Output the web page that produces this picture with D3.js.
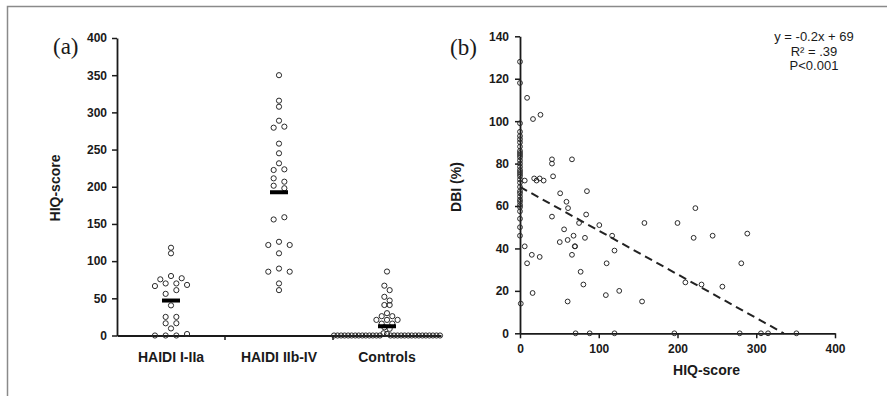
<!DOCTYPE html>
<html><head><meta charset="utf-8">
<script src="https://cdn.jsdelivr.net/npm/d3@7"></script>
<style>
html,body{margin:0;padding:0;background:#fff;}
svg{display:block;}
text{font-family:"Liberation Sans",Arial,sans-serif;fill:#1a1a1a;}
.tick text{font-weight:700 !important;font-size:12px !important;font-family:"Liberation Sans",Arial,sans-serif !important;}
</style></head>
<body>
<svg id="chart" width="887" height="396"></svg>
<script>
// ---------- Panel (a) data ----------
const categories = ["HAIDI I-IIa", "HAIDI IIb-IV", "Controls"];
const haidiLow = [118, 110.5, 75.5, 80, 77, 66.5, 70, 70, 68, 56, 61, 40.5, 25, 25, 16.4, 16.5, 9.5, 0, 0, 0, 2];
const haidiHigh = [350, 315.7, 307.6, 279.4, 288.8, 280.8, 258, 245, 231.5, 222.5, 223.4, 211.3, 206.8, 201.4, 198,
                   156, 159, 121.7, 126, 121.7, 110.5, 85.8, 90, 85.8, 70, 61];
const controls = [86, 67, 61, 52, 41, 47, 41, 26, 30, 26, 21, 16, 21, 16, 21, 11, 9,
                  0, 0, 0, 0, 0, 0, 0, 0, 0, 0, 0, 0, 0, 0, 3, 2,
                  0, 0, 0, 0, 0, 0, 0, 0, 0, 0, 0, 0, 0, 0, 0];
const groupValues = [haidiLow, haidiHigh, controls];
const yTicksA = [0, 50, 100, 150, 200, 250, 300, 350, 400];

// ---------- Panel (b) data ----------
const hiqScore = [
  0,0,0,0,0,0,0,0,0,0,0,0,0,0,0,0,0,0,0,0,0,0,0,0,0,0,0,0,0,0,0,0,0,1,
  9,16.5,26,40.6,40.6,66,6,18,21,25,30,42,51,85,59,61,40.6,84,75,100.7,158,200,222.7,
  56,50.5,60.5,68,82.5,117,69.5,70,66,120,220.5,244.6,288.6,6,15,25,9,110,281,77,80.5,
  210,230.5,257,16,109,126,60.5,155,
  70.6,88.5,120,196,279,306,315,351];
const dbi = [
  128,118,99,95,93,91.5,90,88,86,85,84,83,81.5,80,78.5,77,76,75,74,72.5,71,69,67,66,64.5,63,62,60.5,59.5,57.5,54,50,46,14,
  111,101,103,82,80,82,72,73,72,73,72,74,66,67,62,59,55,56,52,51,52,52,59,
  49,43,44,46,45,46,41,41,37,39,45,46,47,41,37,36,33,33,33,29,23,
  24,23,22,19,18,20,15,15,
  0,0,0,0,0,0,0,0];
const xTicksB = [0, 100, 200, 300, 400];
const yTicksB = [0, 20, 40, 60, 80, 100, 120, 140];
const regSlope = -0.206, regIntercept = 69;
const annotation = ["y = -0.2x + 69", "R\u00B2 = .39", "P<0.001"];

// ---------- Drawing ----------
const svg = d3.select("#chart");
const ink = "#1a1a1a";

// frame
svg.append("path").attr("d", "M7.5,396 V6.5 H887")
  .attr("fill", "none").attr("stroke", "#8a8a8a").attr("stroke-width", 1.5);

function styleAxis(g) {
  g.attr("font-family", null).attr("font-size", null);
  g.select(".domain").attr("stroke", ink).attr("stroke-width", 1.8);
  g.selectAll(".tick line").attr("stroke", ink).attr("stroke-width", 1.5);
  g.selectAll(".tick text").attr("fill", ink).attr("font-weight", "bold");
}

// ===== Panel (a) =====
const yA = d3.scaleLinear().domain([0, 400]).range([335.5, 38]);
const xA = d3.scaleBand().domain(categories).range([117, 441]);

const gAy = svg.append("g").attr("transform", "translate(117,0)")
  .call(d3.axisLeft(yA).tickValues(yTicksA).tickSize(5).tickSizeOuter(0).tickPadding(5));
const gAx = svg.append("g").attr("transform", "translate(0,335.5)")
  .call(d3.axisBottom(xA).tickSize(0).tickSizeOuter(0).tickFormat(""));
svg.append("g").selectAll("line").data(categories.slice(1)).join("line")
  .attr("x1", d => xA(d)).attr("x2", d => xA(d))
  .attr("y1", 335.5).attr("y2", 340).attr("stroke", ink).attr("stroke-width", 1.5);
styleAxis(gAy); styleAxis(gAx);

svg.append("g").selectAll("text").data(categories).join("text")
  .attr("x", d => xA(d) + xA.bandwidth() / 2).attr("y", 362)
  .attr("text-anchor", "middle").style("font-size", "14px").style("font-weight", "bold")
  .text(d => d);

svg.append("text").attr("transform", "translate(60,188) rotate(-90)")
  .attr("text-anchor", "middle").style("font-size", "14px").style("font-weight", "bold")
  .text("HIQ-score");

svg.append("text").attr("x", 53).attr("y", 54)
  .style("font-family", "'Liberation Serif', 'Times New Roman', serif").style("font-size", "23px")
  .text("(a)");

// column scatter layout (binning like a dot plot)
function swarm(vals, cx, W) {
  const BIN = 5;
  const items = vals.map((v, i) => ({ v, i, py: yA(v) }));
  const sorted = items.slice().sort((a, b) => b.v - a.v || a.i - b.i);
  const bins = []; let cur = null;
  sorted.forEach(it => {
    if (!cur || it.py - cur.start > BIN) { cur = { start: it.py, items: [] }; bins.push(cur); }
    cur.items.push(it);
  });
  const nmax = d3.max(bins, b => b.items.length);
  const colSp = Math.max(5.3, Math.min(10.7, W / Math.max(1, nmax - 1)));
  bins.forEach(b => {
    b.items.sort((a, c) => a.i - c.i);
    const n = b.items.length;
    const sp = n > 1 ? Math.min(colSp, W / (n - 1)) : 0;
    b.items.forEach((it, k) => { it.px = cx + (k - (n - 1) / 2) * sp; });
  });
  return items;
}

categories.forEach((c, gi) => {
  const cx = xA(c) + xA.bandwidth() / 2;
  const pts = swarm(groupValues[gi], cx, xA.bandwidth() - 2);
  svg.append("g").selectAll("circle").data(pts).join("circle")
    .attr("cx", d => d.px).attr("cy", d => d.py).attr("r", 2.6)
    .attr("fill", "none").attr("stroke", "#2a2a2a").attr("stroke-width", 1);
  const m = d3.mean(groupValues[gi]);
  svg.append("rect").attr("x", cx - 9).attr("y", yA(m) - 2).attr("width", 18).attr("height", 4)
    .attr("fill", "#000");
});

// ===== Panel (b) =====
const xB = d3.scaleLinear().domain([0, 400]).range([520, 835]);
const yB = d3.scaleLinear().domain([0, 140]).range([333.3, 36.3]);

const gBx = svg.append("g").attr("transform", "translate(0,333.3)")
  .call(d3.axisBottom(xB).tickValues(xTicksB).tickSize(5).tickSizeOuter(0).tickPadding(6));
const gBy = svg.append("g").attr("transform", "translate(520,0)")
  .call(d3.axisLeft(yB).tickValues(yTicksB).tickSize(5).tickSizeOuter(0).tickPadding(6));
styleAxis(gBx); styleAxis(gBy);

svg.append("text").attr("x", 706.5).attr("y", 375)
  .attr("text-anchor", "middle").style("font-size", "14px").style("font-weight", "bold")
  .text("HIQ-score");
svg.append("text").attr("transform", "translate(461,187) rotate(-90)")
  .attr("text-anchor", "middle").style("font-size", "14px").style("font-weight", "bold")
  .text("DBI (%)");
svg.append("text").attr("x", 450).attr("y", 55)
  .style("font-family", "'Liberation Serif', 'Times New Roman', serif").style("font-size", "23px")
  .text("(b)");

// regression line
const xEnd = -regIntercept / regSlope;
svg.append("line")
  .attr("x1", xB(0)).attr("y1", yB(regIntercept))
  .attr("x2", xB(xEnd)).attr("y2", yB(0))
  .attr("stroke", "#222").attr("stroke-width", 2).attr("stroke-dasharray", "8,5");

svg.append("g").selectAll("circle").data(d3.range(hiqScore.length)).join("circle")
  .attr("cx", i => xB(hiqScore[i])).attr("cy", i => yB(dbi[i])).attr("r", 2.4)
  .attr("fill", "none").attr("stroke", "#2a2a2a").attr("stroke-width", 1);

svg.append("g").selectAll("text").data(annotation).join("text")
  .attr("x", 814).attr("y", (d, i) => 41 + i * 14.7)
  .attr("text-anchor", "middle").style("font-size", "13px")
  .text(d => d);
</script>
</body></html>
